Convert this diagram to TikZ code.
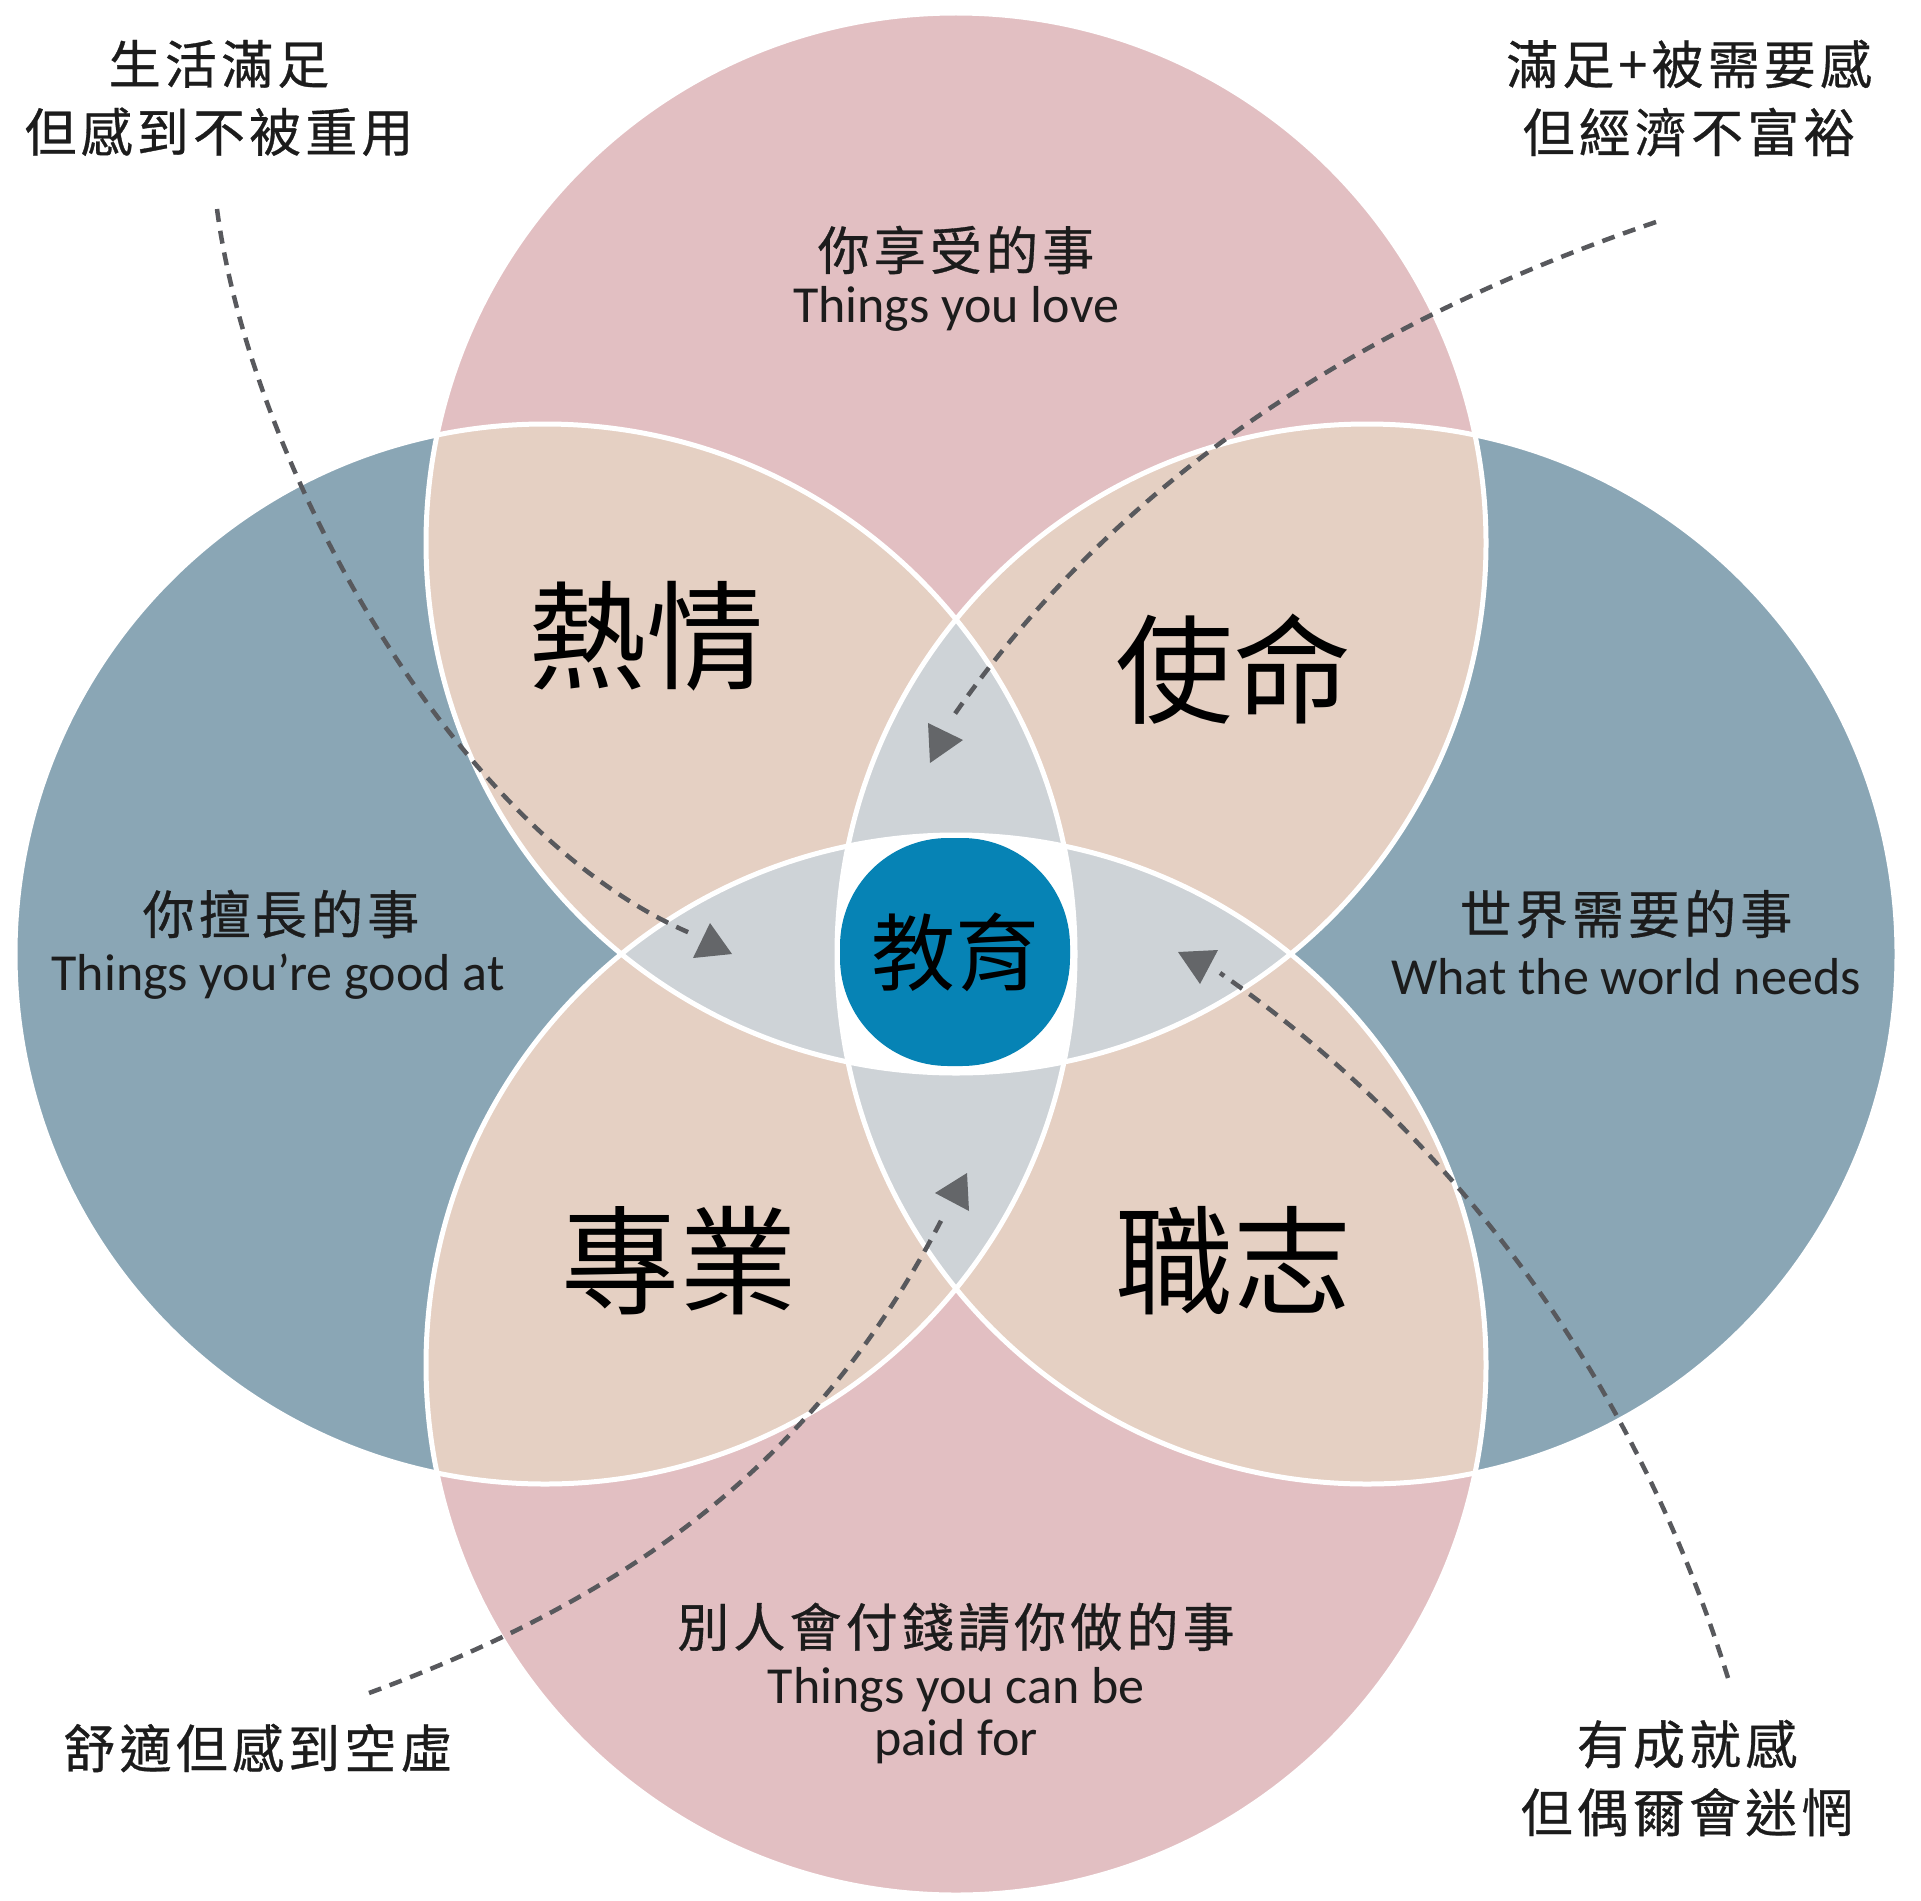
\documentclass[tikz,border=0pt]{standalone}
\usepackage{fontspec}
\newfontfamily\cjk{Noto Sans CJK TC}
\newfontfamily\cjksp[LetterSpace=8,FakeBold=0.6]{Noto Sans CJK TC}
\newfontfamily\lat{Carlito}
\definecolor{pinkc}{RGB}{226,191,194}
\definecolor{bluec}{RGB}{138,166,181}
\definecolor{beigec}{RGB}{229,208,195}
\definecolor{lensc}{RGB}{206,211,215}
\definecolor{edublue}{RGB}{6,131,181}
\definecolor{dashc}{RGB}{88,89,93}
\definecolor{tric}{RGB}{100,102,105}
\definecolor{txtc}{RGB}{28,28,28}
\begin{document}
\begin{tikzpicture}[x=1pt,y=-1pt,
  corner/.style={font=\cjksp\fontsize{52}{68}\selectfont, text=txtc, align=center, inner sep=0pt},
  zhlab/.style={font=\cjksp\fontsize{52}{60}\selectfont, text=txtc, inner sep=0pt},
  enlab/.style={font=\lat\fontsize{52}{60}\selectfont, text=txtc, inner sep=0pt},
  biglab/.style={font=\cjk\fontsize{118}{120}\selectfont, text=black, inner sep=0pt},
  dashline/.style={draw=dashc, line width=4.5pt, dash pattern=on 13pt off 9pt},
  rim/.style={draw=white, line width=5pt}]
\useasboundingbox (0,0) rectangle (1921,1900);
\def\rad{530pt}
\coordinate (T) at (956,543);
\coordinate (B) at (956,1365);
\coordinate (L) at (545,954);
\coordinate (R) at (1367,954);
% base circles
\fill[pinkc] (T) circle[radius=\rad];
\fill[pinkc] (B) circle[radius=\rad];
\fill[bluec] (L) circle[radius=\rad];
\fill[bluec] (R) circle[radius=\rad];
% pair overlaps
\begin{scope}\clip (T) circle[radius=\rad]; \fill[beigec] (L) circle[radius=\rad];\end{scope}
\begin{scope}\clip (T) circle[radius=\rad]; \fill[beigec] (R) circle[radius=\rad];\end{scope}
\begin{scope}\clip (B) circle[radius=\rad]; \fill[beigec] (L) circle[radius=\rad];\end{scope}
\begin{scope}\clip (B) circle[radius=\rad]; \fill[beigec] (R) circle[radius=\rad];\end{scope}
% lenses
\begin{scope}\clip (T) circle[radius=\rad]; \fill[lensc] (B) circle[radius=\rad];\end{scope}
\begin{scope}\clip (L) circle[radius=\rad]; \fill[lensc] (R) circle[radius=\rad];\end{scope}
% four-way overlap
\begin{scope}\clip (T) circle[radius=\rad]; \clip (B) circle[radius=\rad]; \clip (L) circle[radius=\rad]; \fill[white] (R) circle[radius=\rad];\end{scope}
% outlines
\foreach \c in {T,B,L,R} \draw[rim] (\c) circle[radius=\rad];
% centre
\node[fill=edublue, rounded corners=108pt, minimum width=230pt, minimum height=228pt, inner sep=0pt,
      font=\cjk\fontsize{84}{86}\selectfont, text=black] (edu) at (955,952) {教育};
% dashed curves
\coordinate (s1) at (217,209);  \coordinate (e1) at (690,933);
\coordinate (s2) at (1656,222); \coordinate (e2) at (952,718);
\coordinate (s3) at (369,1693); \coordinate (e3) at (945,1213);
\coordinate (s4) at (1728,1678); \coordinate (e4) at (1220,973);
\draw[dashline] (s1) .. controls (250,460) and (450,830) .. (e1);
\draw[dashline] (s2) .. controls (1372,319) and (1123,471) .. (e2);
\draw[dashline] (s3) .. controls (631,1596) and (818,1462) .. (e3);
\draw[dashline] (s4) .. controls (1640,1394) and (1466,1144) .. (e4);
% triangles
\fill[tric] (710,923) -- (693,958) -- (732,954) -- cycle;
\fill[tric] (928,723) -- (963,740) -- (930,763) -- cycle;
\fill[tric] (935,1193) -- (967,1173) -- (969,1211) -- cycle;
\fill[tric] (1178,952) -- (1218,950) -- (1200,984) -- cycle;
% circle labels
\node[zhlab] (lovezh) at (956,250) {你享受的事};
\node[enlab] (loveen) at (956,309) {Things you love};
\node[zhlab] (goodzh) at (281,914) {你擅長的事};
\node[enlab] (gooden) at (278,977) {Things you’re good at};
\node[zhlab] (needzh) at (1626,914) {世界需要的事};
\node[enlab] (needen) at (1626,977) {What the world needs};
\node[zhlab] (paidzh) at (956,1627) {別人會付錢請你做的事};
\node[enlab] (paiden) at (956,1690) {Things you can be};
\node[enlab] (paiden2) at (956,1742) {paid for};
% big labels
\node[biglab] (passion) at (646,636) {熱情};
\node[biglab] (mission) at (1233,669) {使命};
\node[biglab] (profession) at (679,1261) {專業};
\node[biglab] (vocation) at (1233,1261) {職志};
% corner labels
\node[corner] (tl) at (219,98) {生活滿足\\但感到不被重用};
\node[corner] (tr) at (1689,98) {滿足+被需要感\\但經濟不富裕};
\node[corner] (bl) at (258,1748) {舒適但感到空虛};
\node[corner] (br) at (1687,1778) {有成就感\\但偶爾會迷惘};
\end{tikzpicture}
\end{document}
